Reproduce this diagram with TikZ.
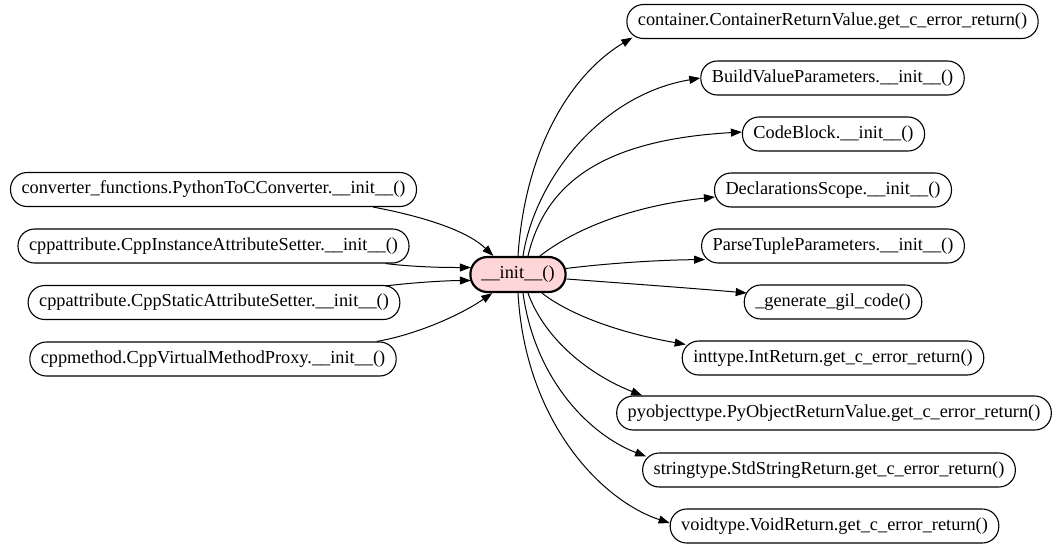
\documentclass[tikz,border=0pt]{standalone}
\usepackage{fontspec}
\setmainfont{Liberation Serif}
\usetikzlibrary{arrows.meta}
\definecolor{centerfill}{RGB}{255,214,216}
\tikzset{
  fn/.style={draw=black, line width=1.1pt, rounded corners=16.5pt, minimum height=34pt,
    inner xsep=11pt, inner ysep=0pt, font=\fontsize{18.3pt}{20pt}\selectfont, text height=12.5pt, text depth=4pt},
  centerfn/.style={fn, line width=2.2pt, fill=centerfill, minimum height=35pt, rounded corners=17pt},
  edge/.style={draw=black, line width=1pt, -{Triangle[length=11pt,width=8pt]}}
}
\begin{document}
\begin{tikzpicture}[x=1pt,y=-1pt]
\useasboundingbox (0,0) rectangle (1059,547);
% center
\node[centerfn] (c) at (518,274.5) {\_\_init\_\_()};
% callers
\node[fn] (l1) at (213.5,189.5) {converter\_functions.PythonToCConverter.\_\_init\_\_()};
\node[fn] (l2) at (213.5,246) {cppattribute.CppInstanceAttributeSetter.\_\_init\_\_()};
\node[fn] (l3) at (214,302.5) {cppattribute.CppStaticAttributeSetter.\_\_init\_\_()};
\node[fn] (l4) at (213,359) {cppmethod.CppVirtualMethodProxy.\_\_init\_\_()};
% callees
\node[fn] (r1) at (832.5,21.5) {container.ContainerReturnValue.get\_c\_error\_return()};
\node[fn] (r2) at (832.5,78) {BuildValueParameters.\_\_init\_\_()};
\node[fn] (r3) at (833.5,134) {CodeBlock.\_\_init\_\_()};
\node[fn] (r4) at (833,190) {DeclarationsScope.\_\_init\_\_()};
\node[fn] (r5) at (833,246) {ParseTupleParameters.\_\_init\_\_()};
\node[fn] (r6) at (833,302) {\_generate\_gil\_code()};
\node[fn] (r7) at (833,358) {inttype.IntReturn.get\_c\_error\_return()};
\node[fn] (r8) at (834,413) {pyobjecttype.PyObjectReturnValue.get\_c\_error\_return()};
\node[fn] (r9) at (829,470) {stringtype.StdStringReturn.get\_c\_error\_return()};
\node[fn] (r10) at (834.5,526) {voidtype.VoidReturn.get\_c\_error\_return()};
% incoming
\draw[edge] ([xshift=-44pt]l1.south east) .. controls +(43,8) and +(-28,-27) .. ([xshift=24pt]c.north west);
\draw[edge] ([xshift=-24pt]l2.south east) .. controls +(33,4) and +(-20,0) .. ([xshift=1.5pt,yshift=7pt]c.west);
\draw[edge] ([xshift=-15pt,yshift=-1pt]l3.north east) .. controls +(33,-4) and +(-20,0) .. ([xshift=1.5pt,yshift=-6pt]c.west);
\draw[edge] ([xshift=-20pt]l4.north east) .. controls +(40,-7) and +(-32,22) .. ([xshift=23pt]c.south west);
% outgoing
\draw[edge] (c.north) .. controls (525,150) and (570,75) .. ([xshift=6pt,yshift=1.5pt]r1.south west);
\draw[edge] ([xshift=5pt]c.north) .. controls (535,180) and (600,95) .. (r2.west);
\draw[edge] ([xshift=10pt]c.north) .. controls (545,185) and (600,140) .. ([yshift=2pt]r3.west);
\draw[edge] ([xshift=22pt]c.north) .. controls (580,225) and (640,205) .. ([xshift=1pt,yshift=-7pt]r4.west);
\draw[edge] ([xshift=-1pt,yshift=6pt]c.east) .. controls (610,263) and (660,260) .. ([xshift=4pt,yshift=4pt]r5.south west);
\draw[edge] ([yshift=-4.5pt]c.east) .. controls (620,283) and (690,288) .. ([xshift=3pt,yshift=9pt]r6.west);
\draw[edge] ([xshift=24pt]c.south) .. controls (570,315) and (620,333) .. ([xshift=4pt,yshift=-4pt]r7.north west);
\draw[edge] ([xshift=10pt]c.south) .. controls (545,340) and (590,375) .. ([xshift=26pt]r8.north west);
\draw[edge] ([xshift=5pt]c.south) .. controls (535,380) and (590,435) .. ([xshift=4pt,yshift=-4pt]r9.north west);
\draw[edge] (c.south) .. controls (525,420) and (600,500) .. ([yshift=3pt]r10.west);
\end{tikzpicture}
\end{document}
